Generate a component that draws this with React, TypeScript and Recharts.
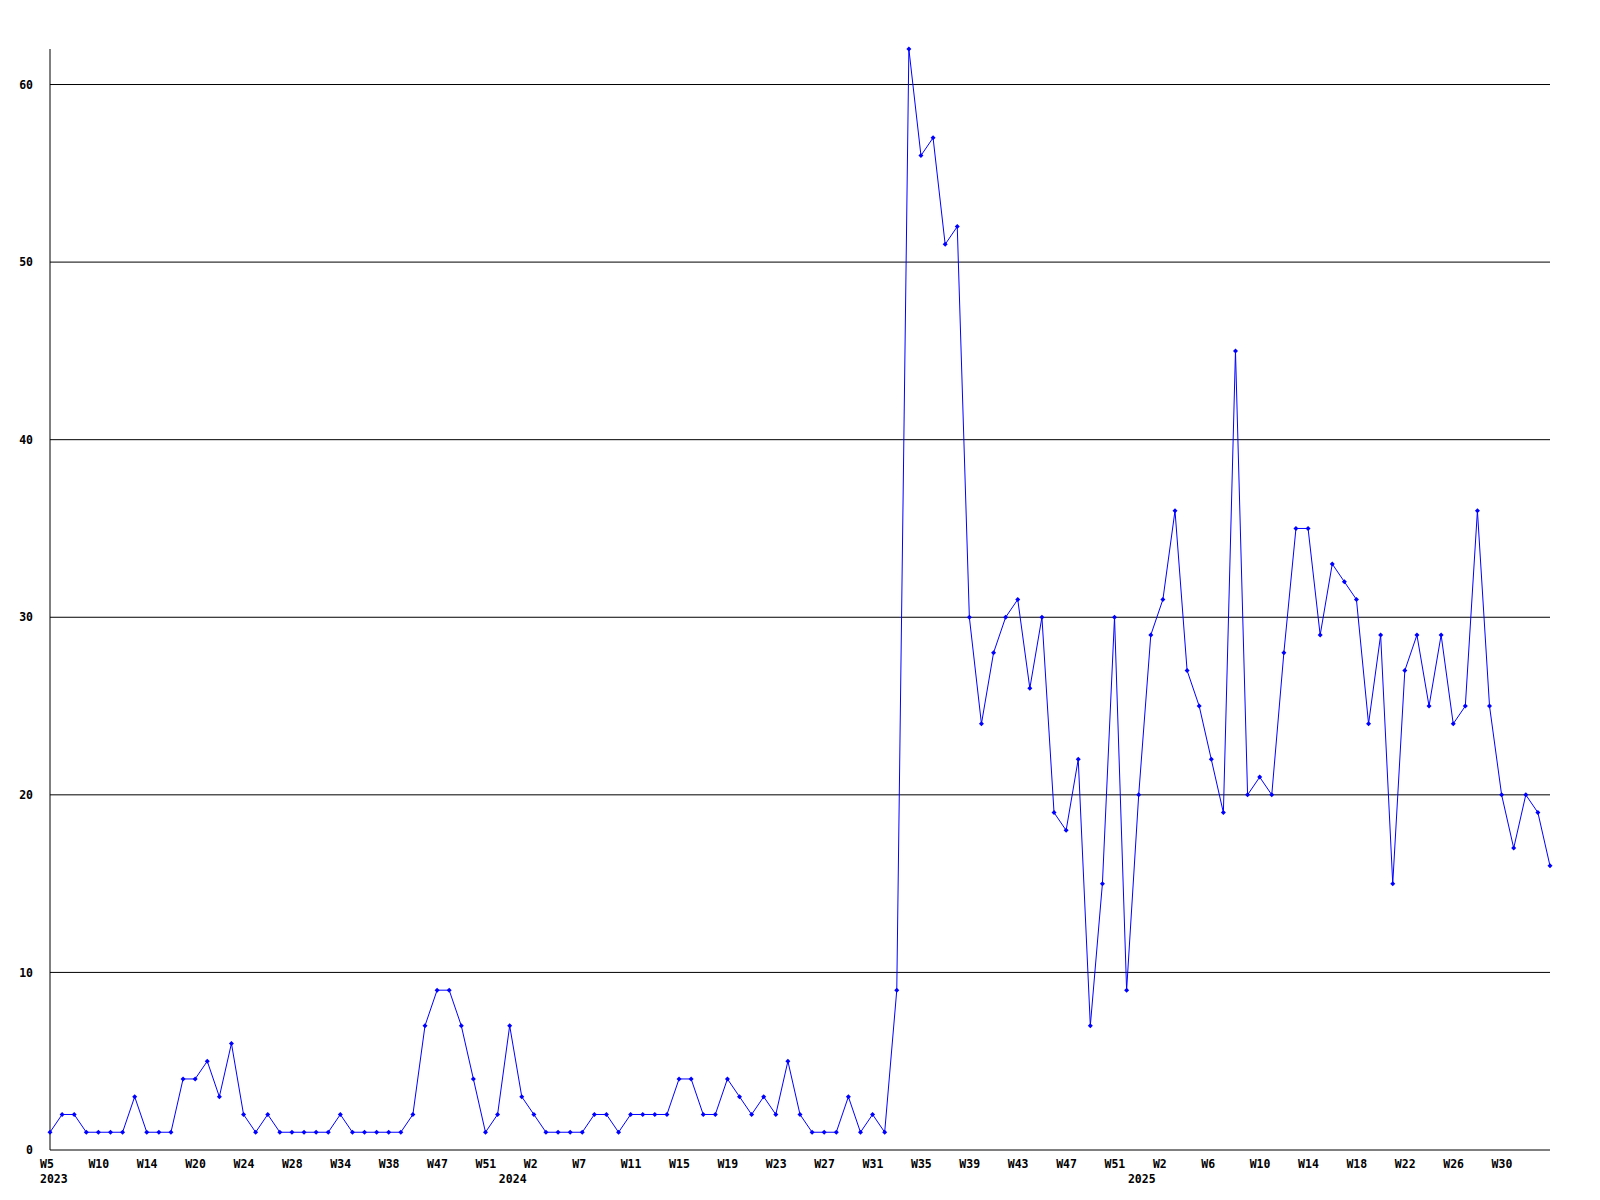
import { LineChart, Line, XAxis, YAxis, ReferenceLine } from "recharts";

// weekly counts, 2023 W5 .. 2025 (one per point)
const counts = [
  1, 2, 2, 1, 1, 1, 1, 3, 1, 1,
  1, 4, 4, 5, 3, 6, 2, 1, 2, 1,
  1, 1, 1, 1, 2, 1, 1, 1, 1, 1,
  2, 7, 9, 9, 7, 4, 1, 2, 7, 3,
  2, 1, 1, 1, 1, 2, 2, 1, 2, 2,
  2, 2, 4, 4, 2, 2, 4, 3, 2, 3,
  2, 5, 2, 1, 1, 1, 3, 1, 2, 1,
  9, 62, 56, 57, 51, 52, 30, 24, 28, 30,
  31, 26, 30, 19, 18, 22, 7, 15, 30, 9,
  20, 29, 31, 36, 27, 25, 22, 19, 45, 20,
  21, 20, 28, 35, 35, 29, 33, 32, 31, 24,
  29, 15, 27, 29, 25, 29, 24, 25, 36, 25,
  20, 17, 20, 19, 16,
];

// one label every 4th point
const weekLabels = [
  "W5", "W10", "W14", "W20", "W24", "W28", "W34", "W38", "W47", "W51",
  "W2", "W7", "W11", "W15", "W19", "W23", "W27", "W31", "W35", "W39",
  "W43", "W47", "W51", "W2", "W6", "W10", "W14", "W18", "W22", "W26", "W30",
];
const yearPoints = [0, 40, 92];
const yearLabels = ["2023", "2024", "2025"];
const yTicks = [0, 10, 20, 30, 40, 50, 60];

const data = counts.map((v, i) => ({ i, v }));
const xTicks = weekLabels.map((_, k) => k * 4);

const font = "'DejaVu Sans Mono', monospace";

const WeekTick = (props: any) => {
  const { x, payload } = props;
  const idx = payload.value;
  const label = weekLabels[idx / 4];
  const yi = yearPoints.indexOf(idx);
  return (
    <g>
      <text x={x - 10} y={1168} textAnchor="start" fontFamily={font} fontWeight="bold" fontSize={11.5} fill="#000">
        {label}
      </text>
      {yi >= 0 && (
        <text x={idx === 0 ? x - 10 : x - 35} y={1183} textAnchor="start" fontFamily={font} fontWeight="bold" fontSize={11.5} fill="#000">
          {yearLabels[yi]}
        </text>
      )}
    </g>
  );
};

const Marker = (props: any) => {
  const { cx, cy, index } = props;
  if (cx == null || cy == null) return <g key={index} />;
  const r = 2.5;
  return (
    <path
      key={index}
      d={`M${cx - r},${cy}L${cx},${cy - r}L${cx + r},${cy}L${cx},${cy + r}Z`}
      fill="#0000ff"
    />
  );
};

export default function App() {
  return (
    <div style={{ position: "absolute", left: 0, top: 0, background: "#fff" }}>
      <LineChart width={1600} height={1200} data={data} margin={{ top: 49, right: 50, bottom: 0, left: 0 }}>
        <XAxis
          dataKey="i"
          type="number"
          domain={[0, 124]}
          ticks={xTicks}
          interval={0}
          height={50}
          axisLine={{ stroke: "#000" }}
          tickLine={false}
          tick={<WeekTick />}
        />
        <YAxis
          domain={[0, 62]}
          ticks={yTicks}
          width={50}
          interval={0}
          axisLine={{ stroke: "#000" }}
          tickLine={false}
          tickSize={6}
          tickMargin={11}
          tick={{ fontFamily: font, fontWeight: "bold", fontSize: 11.5, fill: "#000" }}
        />
        {yTicks.filter((t) => t > 0).map((t) => (
          <ReferenceLine key={t} y={t} stroke="#000" strokeWidth={1} />
        ))}
        <Line
          type="linear"
          dataKey="v"
          stroke="#0000ff"
          strokeWidth={1}
          dot={<Marker />}
          activeDot={false}
          isAnimationActive={false}
        />
      </LineChart>
    </div>
  );
}
